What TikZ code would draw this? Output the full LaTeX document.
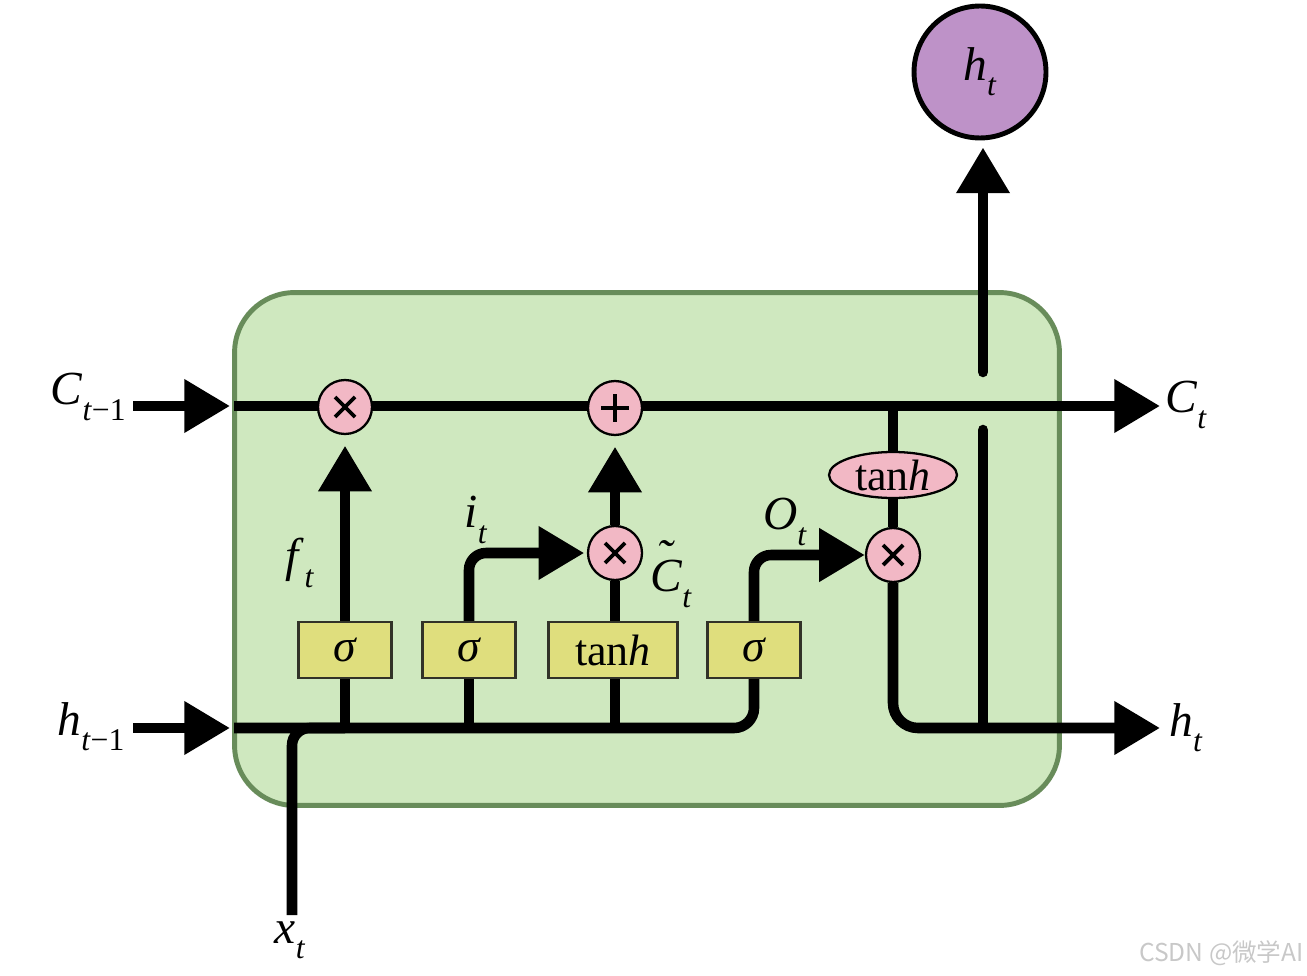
\documentclass[tikz,border=0pt]{standalone}
\usepackage{fontspec}
\setmainfont{Liberation Serif}
\newfontfamily\cjkfont{Noto Sans CJK SC}
\usetikzlibrary{arrows.meta,shapes.geometric}
\pgfdeclarelayer{bg}
\pgfsetlayers{bg,main}
\definecolor{cellfill}{RGB}{207,232,191}
\definecolor{celldraw}{RGB}{104,140,90}
\definecolor{pinkc}{RGB}{242,184,197}
\definecolor{yellowc}{RGB}{223,222,125}
\definecolor{purplec}{RGB}{190,146,200}
\definecolor{boxborder}{RGB}{50,50,40}
\definecolor{wmgray}{RGB}{200,200,200}
\newcommand{\lblsub}[2]{\textit{#1}\raisebox{-0.32em}{\fontsize{18}{18}\selectfont #2}}
\newcommand{\tildeC}{\ooalign{\textit{C}\cr\hidewidth\raisebox{0.42em}{\textit{˜}}\hidewidth\cr}}
\begin{document}
\begin{tikzpicture}[x=0.02cm,y=-0.02cm,
  mainline/.style={line width=6pt,draw=black},
  arr/.style={-{Triangle[length=26pt,width=29pt]}},
  opnode/.style={circle,draw=black,line width=1.3pt,fill=pinkc,minimum size=1.08cm,inner sep=0pt},
  mulnode/.style={opnode,path picture={
     \draw[line width=2.2pt] ([shift={(-0.2cm,-0.2cm)}]path picture bounding box.center) -- ([shift={(0.2cm,0.2cm)}]path picture bounding box.center);
     \draw[line width=2.2pt] ([shift={(-0.2cm,0.2cm)}]path picture bounding box.center) -- ([shift={(0.2cm,-0.2cm)}]path picture bounding box.center);}},
  addnode/.style={opnode,path picture={
     \draw[line width=2pt] ([shift={(-0.28cm,0cm)}]path picture bounding box.center) -- ([shift={(0.28cm,0cm)}]path picture bounding box.center);
     \draw[line width=2pt] ([shift={(0cm,-0.28cm)}]path picture bounding box.center) -- ([shift={(0cm,0.28cm)}]path picture bounding box.center);}},
  gatebox/.style={rectangle,draw=boxborder,line width=1.4pt,fill=yellowc,minimum width=1.86cm,minimum height=1.12cm,inner sep=0pt,font=\fontsize{26}{28}\selectfont},
  lbl/.style={inner sep=0pt,font=\fontsize{27}{30}\selectfont},
  cellbox/.style={rectangle,rounded corners=1.2cm,draw=celldraw,line width=2.8pt,fill=cellfill,minimum width=16.5cm,minimum height=10.26cm,inner sep=0pt}
]
\useasboundingbox (0,0) rectangle (1307,976);

% operation nodes
\node[mulnode] (m1) at (345,407) {};
\node[addnode] (add) at (615,408) {};
\node[mulnode] (m2) at (615,553) {};
\node[mulnode] (m3) at (893,555) {};
\node[ellipse,draw=black,line width=1.3pt,fill=pinkc,minimum width=2.56cm,minimum height=0.92cm,inner sep=0pt,font=\fontsize{25}{27}\selectfont] (te) at (893,475) {tan\textit{h}};
% gates
\node[gatebox] (s1) at (345,650) {\textit{σ}};
\node[gatebox] (s2) at (469,650) {\textit{σ}};
\node[gatebox,minimum width=2.58cm,font=\fontsize{25}{27}\selectfont] (th) at (613,650) {tan\textit{h}};
\node[gatebox] (s3) at (754,650) {\textit{σ}};
% output circle
\node[circle,draw=black,line width=2.8pt,fill=purplec,minimum size=2.64cm,inner sep=0pt,font=\fontsize{27}{30}\selectfont] (hout) at (980,72) {\lblsub{h}{\textit{t}}};

% labels
\node[lbl] (Cin) at (88,397) {\lblsub{C}{\textit{t}−1}};
\node[lbl] (hin) at (91,727) {\lblsub{h}{\textit{t}−1}};
\node[lbl] (Cout) at (1186,405) {\lblsub{C}{\textit{t}}};
\node[lbl] (hrt) at (1186,728) {\lblsub{h}{\textit{t}}};
\node[lbl] (xt) at (290,940) {\lblsub{x}{\textit{t}}};
\node[lbl] (ft) at (300,563) {\lblsub{f}{\textit{t}}};
\node[lbl] (it) at (476,520) {\lblsub{i}{\textit{t}}};
\node[lbl] (Ct) at (671,584) {\tildeC\raisebox{-0.32em}{\fontsize{18}{18}\selectfont\textit{t}}};
\node[lbl] (Ot) at (785,522) {\lblsub{O}{\textit{t}}};
\node[anchor=east,inner sep=0pt,text=wmgray,font=\cjkfont\fontsize{14}{16}\selectfont] (wm) at (1304,953) {CSDN @微学AI};

% free ends
\coordinate (cL) at (234,406);
\coordinate (cR) at (1160,406);
\coordinate (hL) at (234,728);
\coordinate (hR) at (1160,728);
\coordinate (cinS) at (133,406);
\coordinate (cinE) at (230,406);
\coordinate (hinS) at (133,728);
\coordinate (hinE) at (230,728);
\coordinate (xin) at (292,915);
\coordinate (j1) at (983,726);
\coordinate (j2) at (983,430);
\coordinate (j3) at (983,372);

\begin{pgfonlayer}{bg}
\node[cellbox] (cell) at (647,549) {};
\draw[mainline,arr] (cinS) -- (cinE);
\draw[mainline,arr] (hinS) -- (hinE);
\draw[mainline,arr] (cL) -- (cR);
\draw[mainline,rounded corners=0.4cm] (hL) -| (s3.south);
\draw[mainline,rounded corners=0.35cm] (xin) |- (s1.south |- hL);
\draw[mainline] (s1.south) -- (s1.south |- hL);
\draw[mainline] (s2.south) -- (s2.south |- hL);
\draw[mainline] (m2 |- th.south) -- (m2 |- hL);
\draw[mainline,arr,shorten >=6pt] (s1.north) -- (m1.south);
\draw[mainline,arr,rounded corners=0.34cm,shorten >=1.5pt] (s2.north) |- (m2.west);
\draw[mainline] (m2 |- th.north) -- (m2.south);
\draw[mainline,arr,shorten >=6pt] (m2.north) -- (add.south);
\draw[mainline,arr,rounded corners=0.34cm] (s3.north) |- (m3.west);
\draw[mainline] (te.north |- cL) -- (te.north);
\draw[mainline] (te.south) -- (m3.north);
\draw[mainline,arr,rounded corners=0.5cm] (m3.south) |- (hR);
\draw[mainline,line cap=round] (j1) -- (j2);
\draw[mainline,line cap=round,arr,shorten >=4pt] (j3) -- (j3 |- hout.south);
\end{pgfonlayer}
\end{tikzpicture}
\end{document}
